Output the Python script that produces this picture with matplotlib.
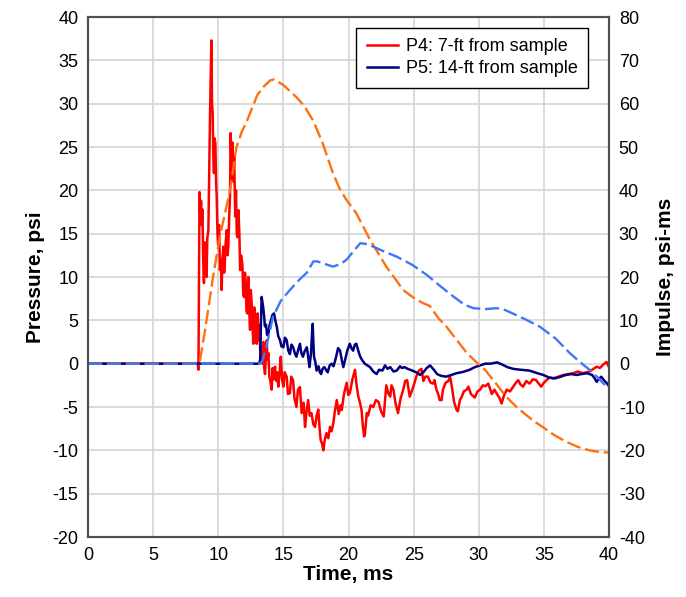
import matplotlib
matplotlib.use("Agg")
import matplotlib.pyplot as plt

plt.rcParams['font.family'] = ['Liberation Sans', 'DejaVu Sans']
plt.rcParams['axes.unicode_minus'] = False

# P4 pressure trace (psi) vs time (ms)
p4_time = [0.0, 8.40, 8.48, 8.52, 8.56, 8.62, 8.68, 8.73, 8.78, 8.84,
           8.90, 8.96, 9.02, 9.06, 9.10, 9.16, 9.24, 9.30, 9.37, 9.42,
           9.47, 9.52, 9.57, 9.62, 9.67, 9.72, 9.78, 9.83, 9.88, 9.94,
           10.00, 10.06, 10.13, 10.20, 10.26, 10.32, 10.39, 10.45, 10.50, 10.57,
           10.65, 10.71, 10.77, 10.84, 10.90, 10.95, 11.00, 11.05, 11.10, 11.16,
           11.22, 11.30, 11.36, 11.42, 11.47, 11.55, 11.62, 11.68, 11.75, 11.85,
           11.92, 11.98, 12.05, 12.10, 12.17, 12.23, 12.30, 12.37, 12.44, 12.50,
           12.56, 12.63, 12.69, 12.76, 12.82, 12.89, 12.95, 13.02, 13.07, 13.15,
           13.22, 13.33, 13.40, 13.46, 13.53, 13.59, 13.66, 13.72, 13.78, 13.85,
           13.92, 14.00, 14.10, 14.17, 14.25, 14.36, 14.45, 14.53, 14.61, 14.70,
           14.80, 14.90, 15.00, 15.10, 15.25, 15.35, 15.50, 15.60, 15.74, 15.85,
           16.00, 16.12, 16.27, 16.40, 16.55, 16.66, 16.78, 16.90, 17.02, 17.15,
           17.30, 17.43, 17.55, 17.68, 17.78, 17.86, 17.96, 18.07, 18.15, 18.30,
           18.45, 18.58, 18.70, 18.83, 18.95, 19.10, 19.25, 19.40, 19.48, 19.65,
           19.86, 19.98, 20.10, 20.30, 20.50, 20.62, 20.75, 20.88, 21.00, 21.10,
           21.20, 21.27, 21.40, 21.50, 21.70, 21.90, 22.10, 22.30, 22.50, 22.70,
           22.90, 23.05, 23.20, 23.30, 23.45, 23.60, 23.80, 24.00, 24.20, 24.35,
           24.50, 24.70, 24.90, 25.05, 25.20, 25.40, 25.60, 25.75, 25.90, 26.10,
           26.30, 26.50, 26.60, 26.75, 26.90, 27.00, 27.15, 27.25, 27.45, 27.66,
           27.80, 27.95, 28.10, 28.30, 28.40, 28.55, 28.70, 28.85, 29.07, 29.20,
           29.40, 29.60, 29.70, 29.90, 30.10, 30.30, 30.50, 30.73, 31.00, 31.20,
           31.40, 31.60, 31.75, 31.95, 32.15, 32.40, 32.65, 32.85, 33.03, 33.20,
           33.40, 33.65, 33.90, 34.15, 34.40, 34.60, 34.80, 35.00, 35.20, 35.45,
           35.70, 36.10, 36.50, 36.90, 37.26, 37.60, 38.00, 38.50, 38.80, 39.05,
           39.30, 39.56, 39.80, 40.00]
p4_psi = [0, 0, -0.7, 10, 19.8, 17, 18.8, 16, 17.8, 12,
          9.3, 14, 11, 13.1, 10, 14.5, 15.4, 22, 28.9, 33,
          37.3, 30, 28.9, 24, 22, 26, 25.4, 21, 19.3, 15,
          13.5, 16, 10.8, 12, 8.5, 12, 13.5, 10.5, 11.6, 14,
          15.4, 12.5, 13.5, 17, 19.3, 26.6, 24, 21.2, 25.5, 21,
          23.9, 17, 20, 15, 14.6, 17.7, 15, 10.8, 12.5, 11.5,
          8, 7.7, 10.5, 9.2, 6, 5.8, 10, 6.5, 3.9, 8.5,
          7, 4.5, 2.3, 6.5, 5, 3, 2.3, 5.8, 2.7, 4.5,
          1.5, 1.9, 0, 2.5, -0.5, -1.2, 1, 2.7, 0.5, 1.2,
          -1.5, -2, -3, -0.5, -1.8, -0.35, -2, -1, -2.65, -1.2,
          0.8, -1.8, -2.65, -1, -1.5, -3.5, -3.4, -1.5, -1.9, -4,
          -5, -3, -2.7, -5.7, -4.5, -7.3, -5.5, -4.2, -6, -5.7,
          -7, -7.3, -6, -5.3, -7.5, -8.8, -9.2, -10, -9, -8,
          -8.6, -7.3, -7.8, -6.9, -5.5, -4.2, -5.8, -4.8, -5.35, -3.5,
          -2.2, -3.6, -3.4, -1.8, -0.7, -2.5, -3.8, -4.5, -5.35, -7.2,
          -8.4, -8, -5.7, -6, -4.8, -5, -4.2, -4.4, -5.5, -6.1,
          -2.5, -3.4, -3.8, -2.5, -3.0, -4.5, -5.7, -4, -3, -2,
          -1.9, -3.8, -3, -2.3, -1.5, -0.8, -0.6, -2, -1.5, -1.5,
          -2.2, -2.3, -1.9, -3.0, -3.6, -4.2, -4.2, -3, -2.2, -2,
          -1.5, -2.8, -4.4, -5.35, -5.5, -4.2, -3.8, -3.2, -3, -2.65,
          -3.5, -3.8, -3.9, -3.2, -3.0, -2.5, -2.6, -2.3, -3.5, -3.0,
          -3.5, -4.0, -4.6, -3.6, -3.0, -3.2, -2.65, -2.2, -1.9, -2.4,
          -2.65, -2.0, -2.3, -1.8, -1.9, -2.3, -2.65, -2.2, -1.9, -1.6,
          -1.7, -1.5, -1.3, -1.2, -1.1, -0.9, -1.1, -0.9, -0.6, -0.35,
          -0.5, -0.1, 0.2, -0.4]

# P5 pressure trace
p5_time = [0.0, 13.15, 13.22, 13.28, 13.33, 13.40, 13.45, 13.52, 13.58, 13.67,
           13.75, 13.85, 13.95, 14.05, 14.15, 14.28, 14.38, 14.50, 14.60, 14.74,
           14.85, 15.00, 15.12, 15.25, 15.38, 15.50, 15.62, 15.75, 15.88, 16.00,
           16.12, 16.27, 16.38, 16.50, 16.62, 16.80, 16.90, 17.00, 17.12, 17.20,
           17.25, 17.30, 17.35, 17.45, 17.55, 17.70, 17.80, 17.90, 18.00, 18.15,
           18.30, 18.40, 18.55, 18.70, 18.85, 19.00, 19.20, 19.35, 19.50, 19.60,
           19.75, 19.90, 20.10, 20.22, 20.35, 20.48, 20.60, 20.75, 20.90, 21.05,
           21.25, 21.45, 21.65, 21.90, 22.15, 22.35, 22.60, 22.80, 23.00, 23.20,
           23.45, 23.70, 23.95, 24.10, 24.30, 24.55, 24.90, 25.20, 25.50, 25.80,
           26.00, 26.26, 26.55, 26.80, 27.10, 27.50, 27.90, 28.30, 28.80, 29.30,
           29.70, 30.10, 30.50, 30.90, 31.40, 31.80, 32.20, 32.65, 33.20, 33.90,
           34.50, 34.95, 35.40, 35.85, 36.30, 36.70, 37.10, 37.50, 37.90, 38.30,
           38.70, 38.90, 39.05, 39.20, 39.40, 39.60, 39.80, 40.00]
p5_psi = [0, 0, 0.5, 5, 7.7, 7, 6.5, 5.5, 4.3, 4.5,
          3.3, 3.5, 4.5, 5.0, 5.6, 5.8, 5, 4.2, 3.2, 2.7,
          2.0, 1.9, 3, 2.7, 1.5, 1.1, 2.2, 1.9, 1.2, 0.8,
          1.5, 2.3, 1.2, 0.8, 1.4, 1.9, 0.8, -0.4, 1.2, 3.5,
          4.6, 2.5, 0.8, 0.2, -0.8, -0.3, -1, -1.2, -0.6, -0.4,
          -0.8, -1.0, -0.2, 0, -0.3, 0.5, 1.8, 1.5, 0.3, -0.4,
          0.5, 1.5, 2.3, 1.8, 1.5, 2.2, 2.3, 1.5, 0.8, 0.4,
          0, -0.2, -0.4, -0.9, -1.2, -0.7, -0.8, -0.2, -0.6, -0.4,
          -0.9, -0.8, -0.3, -0.5, -0.4, -0.6, -0.8, -1.0, -1.3, -0.9,
          -0.5, -0.2, -0.7, -1.2, -1.4, -1.5, -1.3, -1.1, -0.95, -0.7,
          -0.4, -0.2, 0, 0, 0.15, -0.1, -0.4, -0.6, -0.7, -0.8,
          -1.1, -1.3, -1.6, -1.7, -1.5, -1.3, -1.2, -1.3, -1.2, -1.1,
          -1.3, -1.7, -2.1, -1.8, -1.5, -1.9, -2.2, -2.6]

# impulse curves (psi-ms), right axis
imp4_time = [0, 8.5, 8.6, 9.0, 9.6, 10.1, 10.9, 11.4, 11.8, 12.2,
             13.0, 13.5, 14.0, 14.3, 15.0, 16.0, 16.6, 17.3, 18.0, 18.8,
             19.3, 19.8, 20.6, 21.65, 22.9, 24.2, 25.0, 25.7, 26.25, 26.9,
             27.5, 28.3, 29.1, 29.8, 30.5, 31.3, 32.1, 32.9, 33.5, 34.2,
             34.9, 35.8, 36.7, 37.6, 38.5, 39.3, 40.0]
imp4 = [0, 0, 0.8, 8, 20, 29, 40, 50, 53.5, 56,
        62, 64, 65.4, 65.6, 64.3, 61.5, 59.5, 56, 51, 44,
        40.5, 38, 34.7, 28.6, 22.4, 17, 15.2, 14, 13.3, 10.5,
        8.6, 5.5, 2.4, 0.4, -1.5, -4.5, -7.6, -10, -11.5, -13.2,
        -14.6, -16.5, -18, -19.2, -20, -20.4, -20.5]

imp5_time = [0, 13.2, 13.4, 13.7, 14.2, 14.8, 15.5, 16.2, 16.8, 17.3,
             17.6, 18.0, 18.8, 19.4, 19.85, 20.4, 20.9, 21.4, 21.9, 22.8,
             23.7, 24.9, 26.0, 27.0, 28.05, 28.9, 29.6, 30.5, 31.4, 32.0,
             32.6, 33.6, 34.7, 35.9, 37.0, 37.8, 38.5, 39.2, 39.8, 40.0]
imp5 = [0, 0, 0.7, 4, 10.8, 14.5, 17, 19.3, 21, 23.6,
        23.6, 23.2, 22.4, 23, 24, 26, 27.8, 27.6, 27, 25.8,
        24.7, 22.8, 20.5, 18, 15.5, 13.6, 12.8, 12.6, 12.8, 12.4,
        11.6, 10.2, 8.5, 5.8, 2.4, 0.3, -1.4, -3.4, -5.3, -5.8]

fig = plt.figure(figsize=(6.86, 5.97), dpi=100)
ax = fig.add_axes([0.1283, 0.1005, 0.7595, 0.871])
ax2 = ax.twinx()

l4, = ax.plot(p4_time, p4_psi, color='#ff0000', lw=1.8, label='P4: 7-ft from sample')
l5, = ax.plot(p5_time, p5_psi, color='#000080', lw=1.8, label='P5: 14-ft from sample')
ax2.plot(imp4_time, imp4, color='#ff7010', lw=1.7, dashes=(6, 2))
ax2.plot(imp5_time, imp5, color='#3d78f5', lw=1.7, dashes=(6, 2))

ax.set_xlim(0, 40)
ax.set_ylim(-20, 40)
ax2.set_ylim(-40, 80)
ax.set_xticks(range(0, 41, 5))
ax.set_yticks(range(-20, 41, 5))
ax2.set_yticks(range(-40, 81, 10))
ax.grid(True, color='#d4d4d4', lw=1.2)
ax.set_axisbelow(True)

for a in (ax, ax2):
    a.tick_params(length=0, labelsize=13, pad=7)
    for s in a.spines.values():
        s.set_color('#505050')
        s.set_linewidth(1.5)

lab = dict(fontsize=15, fontweight='bold')
ax.set_xlabel('Time, ms', labelpad=1, **lab)
ax.set_ylabel('Pressure, psi', labelpad=5, **lab)
ax2.set_ylabel('Impulse, psi-ms', labelpad=8, **lab)

leg = ax2.legend(handles=[l4, l5], loc='upper left', bbox_to_anchor=(0.497, 0.997),
                 fontsize=13, fancybox=False, framealpha=1, edgecolor='black',
                 borderpad=0.6, labelspacing=0.25, handlelength=1.7, handletextpad=0.45)
leg.get_frame().set_linewidth(1.0)

fig.savefig('out.png', dpi=100)
